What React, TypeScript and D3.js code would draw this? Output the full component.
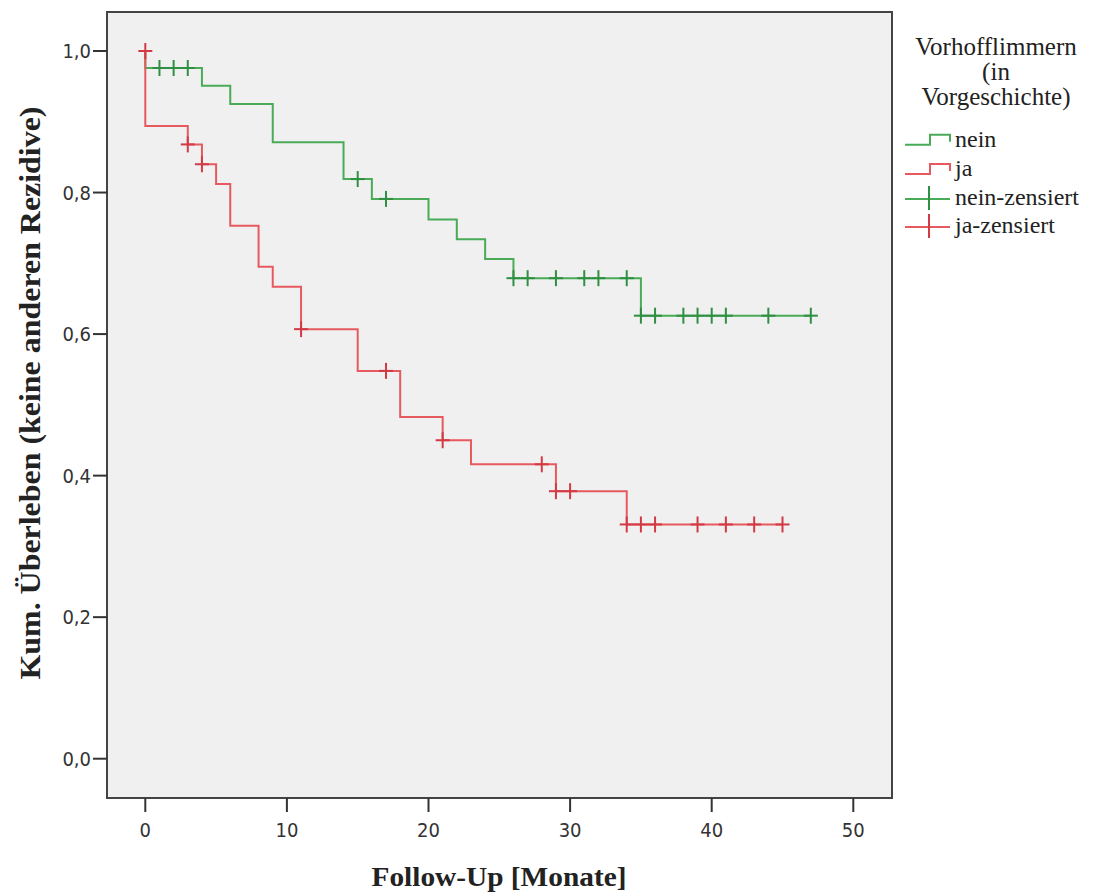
import React from "react";
import * as d3 from "d3";

// ---- data ----
const xTicks = [0, 10, 20, 30, 40, 50];
const yTicks = [0, 0.2, 0.4, 0.6, 0.8, 1.0];

// Kaplan-Meier step points [month, survival]
const neinSteps: [number, number][] = [
  [0, 1.0], [0, 0.976], [4, 0.951], [6, 0.925], [9, 0.871], [14, 0.819],
  [16, 0.791], [20, 0.762], [22, 0.734], [24, 0.706], [26, 0.679],
  [35, 0.626], [47, 0.626],
];
const jaSteps: [number, number][] = [
  [0, 1.0], [0, 0.894], [3, 0.868], [4, 0.840], [5, 0.812], [6, 0.753],
  [8, 0.695], [9, 0.667], [11, 0.607], [15, 0.548], [18, 0.483],
  [21, 0.450], [23, 0.416], [29, 0.378], [34, 0.331], [45, 0.331],
];
// censored observations [month, survival]
const neinCensored: [number, number][] = [
  [1, 0.976], [2, 0.976], [3, 0.976], [15, 0.819], [17, 0.791],
  [26, 0.679], [27, 0.679], [29, 0.679], [31, 0.679], [32, 0.679], [34, 0.679],
  [35, 0.626], [36, 0.626], [38, 0.626], [39, 0.626], [40, 0.626], [41, 0.626],
  [44, 0.626], [47, 0.626],
];
const jaCensored: [number, number][] = [
  [0, 1.0], [3, 0.868], [4, 0.840], [11, 0.607], [17, 0.548], [21, 0.450],
  [28, 0.416], [29, 0.378], [30, 0.378],
  [34, 0.331], [35, 0.331], [36, 0.331], [39, 0.331], [41, 0.331], [43, 0.331],
  [45, 0.331],
];

const legendTitle = ["Vorhofflimmern", "(in", "Vorgeschichte)"];
const legendItems = ["nein", "ja", "nein-zensiert", "ja-zensiert"];

const xTitle = "Follow-Up [Monate]";
const yTitle = "Kum. Überleben (keine anderen Rezidive)";

const GREEN = "#4aab57";
const GREEN_DARK = "#2f8f42";
const RED = "#e65a5f";
const RED_DARK = "#d23a45";

export default function App() {
  const frame = { left: 107, top: 12, right: 892, bottom: 798 };
  const x = d3.scaleLinear().domain([0, 50]).range([145.3, 853.3]);
  const y = d3.scaleLinear().domain([0, 1]).range([758.7, 51]);
  const line = d3
    .line<[number, number]>()
    .x((d) => x(d[0]))
    .y((d) => y(d[1]))
    .curve(d3.curveStepAfter);

  const tickFont = "'DejaVu Sans Condensed', 'Liberation Sans Narrow', sans-serif";
  const serif = "'Liberation Serif', 'DejaVu Serif', serif";

  const censor = (d: [number, number], i: number, color: string) => (
    <g key={i} stroke={color} strokeWidth={2}>
      <line x1={x(d[0])} x2={x(d[0])} y1={y(d[1]) - 8} y2={y(d[1]) + 8} />
      <line x1={x(d[0]) - 7} x2={x(d[0]) + 7} y1={y(d[1])} y2={y(d[1])} />
    </g>
  );

  const legX = 905;
  const legBase = [146.7, 176, 205, 233];

  return (
    <svg
      width={1095}
      height={896}
      style={{ position: "absolute", left: 0, top: 0, background: "#fff" }}
    >
      <rect
        x={frame.left}
        y={frame.top}
        width={frame.right - frame.left}
        height={frame.bottom - frame.top}
        fill="#f0f0f0"
        stroke="#444"
        strokeWidth={2}
      />
      {/* x axis ticks */}
      {xTicks.map((t) => (
        <g key={"x" + t}>
          <line x1={x(t)} x2={x(t)} y1={frame.bottom} y2={frame.bottom + 14} stroke="#333" strokeWidth={2} />
          <text x={x(t)} y={837} textAnchor="middle" fontFamily={tickFont} fontSize={20} fill="#333">
            {t}
          </text>
        </g>
      ))}
      {/* y axis ticks */}
      {yTicks.map((t) => (
        <g key={"y" + t}>
          <line x1={frame.left - 14} x2={frame.left} y1={y(t)} y2={y(t)} stroke="#333" strokeWidth={2} />
          <text
            x={frame.left - 16}
            y={y(t) + 7}
            textAnchor="end"
            fontFamily={tickFont}
            fontSize={20}
            fill="#333"
          >
            {d3.format(".1f")(t).replace(".", ",")}
          </text>
        </g>
      ))}
      {/* curves */}
      <path d={line(neinSteps) || ""} fill="none" stroke={GREEN} strokeWidth={2} />
      <path d={line(jaSteps) || ""} fill="none" stroke={RED} strokeWidth={2} />
      {neinCensored.map((d, i) => censor(d, i, GREEN_DARK))}
      {jaCensored.map((d, i) => censor(d, i, RED_DARK))}

      {/* axis titles */}
      <text
        x={499}
        y={886}
        textAnchor="middle"
        fontFamily={serif}
        fontWeight="bold"
        fontSize={28}
        textLength={255}
        lengthAdjust="spacingAndGlyphs"
        fill="#222"
      >
        {xTitle}
      </text>
      <text
        transform={`translate(40, 393) rotate(-90)`}
        textAnchor="middle"
        fontFamily={serif}
        fontWeight="bold"
        fontSize={29}
        textLength={573}
        lengthAdjust="spacingAndGlyphs"
        fill="#222"
      >
        {yTitle}
      </text>

      {/* legend */}
      {legendTitle.map((s, i) => (
        <text key={s} x={996} y={55 + i * 25} textAnchor="middle" fontFamily={serif} fontSize={25} fill="#222">
          {s}
        </text>
      ))}
      {legendItems.map((s, i) => {
        const b = legBase[i];
        const isStep = i < 2;
        const col = i % 2 === 0 ? GREEN : RED;
        const dark = i % 2 === 0 ? GREEN_DARK : RED_DARK;
        return (
          <g key={s}>
            {isStep ? (
              <path
                d={`M${legX},${b - 2} H${legX + 25} V${b - 12} H${legX + 45} V${b - 5}`}
                fill="none"
                stroke={col}
                strokeWidth={2}
              />
            ) : (
              <g>
                <line x1={legX} x2={legX + 45} y1={b - 6} y2={b - 6} stroke={col} strokeWidth={2} />
                <line x1={legX + 24} x2={legX + 24} y1={b - 19} y2={b + 5} stroke={dark} strokeWidth={2} />
              </g>
            )}
            <text x={legX + 50} y={b} fontFamily={serif} fontSize={24} fill="#222">
              {s}
            </text>
          </g>
        );
      })}
    </svg>
  );
}
